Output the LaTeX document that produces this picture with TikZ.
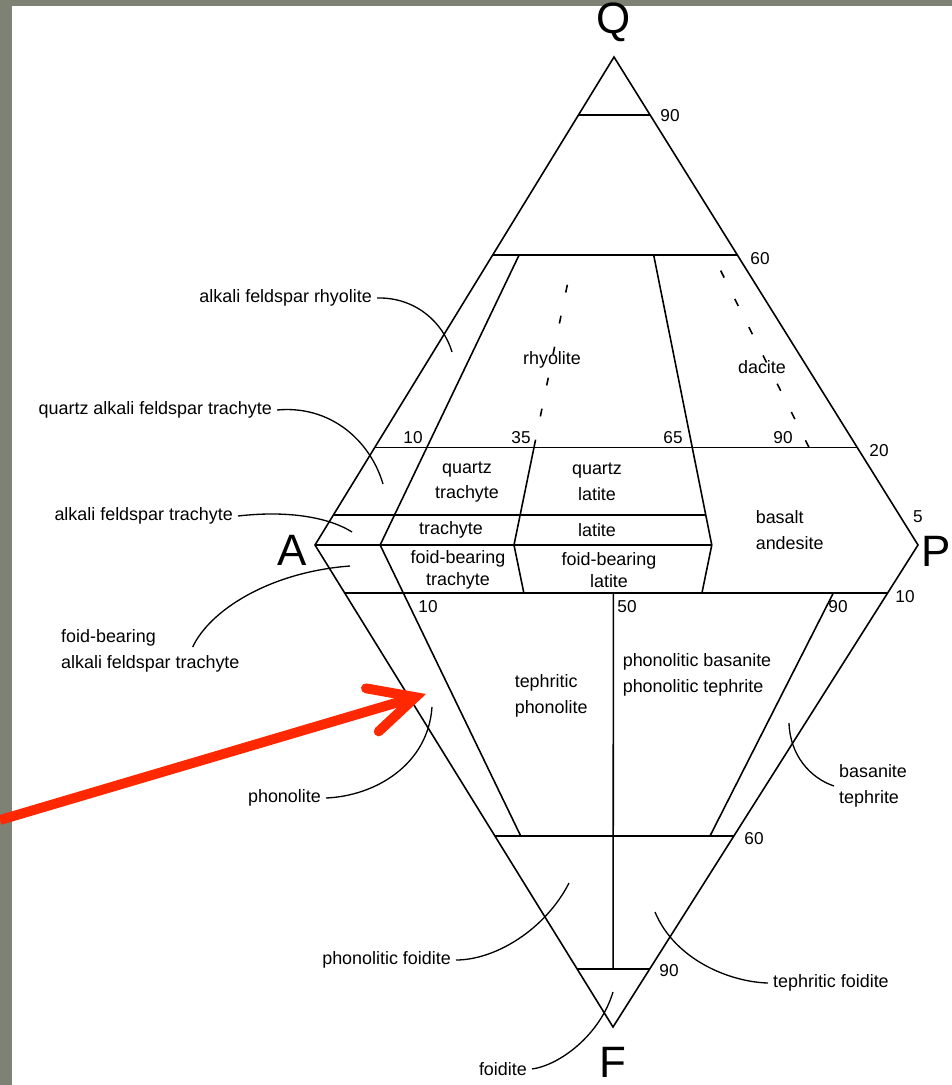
\documentclass[tikz,border=0pt]{standalone}
\usepackage{fontspec}
\setmainfont{Liberation Sans}
\usetikzlibrary{arrows.meta,positioning,calc}
\definecolor{slideGrey}{HTML}{7E8275}
\definecolor{markRed}{HTML}{FF2800}

\begin{document}
\begin{tikzpicture}[x=0.02cm, y=-0.02cm, line width=0.9pt,
    every node/.style={font=\fontsize{10.2}{14.7}\selectfont, inner sep=0pt},
    corner/.style={font=\fontsize{25}{28}\selectfont},
    tick/.style={font=\fontsize{9.8}{11}\selectfont},
    field/.style={align=center},
    tight/.style={align=center, font=\fontsize{10.2}{12.4}\selectfont},
    note/.style={inner sep=2.5pt},
    leader/.style={line width=0.75pt},
    guess/.style={dash pattern=on 4.5pt off 13.5pt}]
  \useasboundingbox (0,0) rectangle (952,1085);
  \fill[slideGrey] (0,0) rectangle (952,1085);
  \fill[white] (12,6) rectangle (952,1085);

  \coordinate (Q) at (614,57);
  \coordinate (A) at (315,545);
  \coordinate (P) at (918,545);
  \coordinate (F) at (613,1027);
  \foreach \t/\n in {0.108/10, 0.33/35, 0.495/50, 0.658/65, 0.9/90}
    \coordinate (ap\n) at ($(A)!\t!(P)$);

  \draw[line join=miter] (Q) -- (A) -- (F) -- (P) -- cycle;
  \draw (A) -- (ap65);
  \foreach \t in {0.881, 0.594, 0.2}
    \draw ($(A)!\t!(Q)$) -- ($(P)!\t!(Q)$);
  \foreach \t in {0.0996, 0.604, 0.88}
    \draw ($(A)!\t!(F)$) -- ($(P)!\t!(F)$);
  \draw ($(A)!0.0615!(Q)$) -- ($(ap65)!0.0615!(Q)$);
  \draw ($(ap10)!0.594!(Q)$) -- (ap10) -- ($(ap10)!0.604!(F)$);
  \draw ($(ap35)!0.2!(Q)$) -- (ap35) -- ($(ap35)!0.0996!(F)$);
  \draw ($(ap65)!0.594!(Q)$) -- (ap65) -- ($(ap65)!0.0996!(F)$);
  \draw ($(ap90)!0.0996!(F)$) -- ($(ap90)!0.604!(F)$);
  \draw ($(ap50)!0.0996!(F)$) -- ($(ap50)!0.88!(F)$);
  \draw[guess] ($(ap35)!0.2!(Q)$) -- ($(ap35)!0.57!(Q)$);
  \draw[guess] ($(ap90)!0.2!(Q)$) -- ($(ap90)!0.594!(Q)$);

  \node[corner] (lQ) at (614,22) {Q};
  \node[corner] (lA) at (292,550) {A};
  \node[corner, anchor=east] (lP) at (952,551) {P};
  \node[corner] (lF) at (613,1062) {F};

  \foreach \x/\y/\v in {670/116/90, 760/259/60, 879/451/20, 918/517/5, 905/597/10,
      754/839/60, 669/971/90, 413/438/10, 521/438/35, 673/438/65, 783/438/90,
      428/607/10, 627/607/50, 838/607/90}
    \node[tick] (n\x) at (\x,\y) {\v};

  \node (rhy) at (552,360) {rhyolite};
  \node (dac) at (762,367) {dacite};
  \node[field] (qtr) at (467,482) {quartz\\trachyte};
  \node[field] (qlat) at (597,482) {quartz\\latite};
  \node (tra) at (451,530) {trachyte};
  \node (lat) at (597,530) {latite};
  \node[tight] (ftra) at (458,570) {foid-bearing\\trachyte};
  \node[tight] (flat) at (609,570) {foid-bearing\\latite};
  \node[align=left, anchor=west] (bas) at (755,530) {basalt\\andesite};
  \node[align=left, anchor=west] (tph) at (514,696) {tephritic\\phonolite};
  \node[align=left, anchor=west] (pbt) at (622,675) {phonolitic basanite\\phonolitic tephrite};

  \node[note, anchor=east] (afr) at (377,298) {alkali feldspar rhyolite};
  \node[note, anchor=east] (qaft) at (277,410) {quartz alkali feldspar trachyte};
  \node[note, anchor=east] (aft) at (238,516) {alkali feldspar trachyte};
  \node[note, anchor=north west, align=left] (faft) at (56,624) {foid-bearing\\alkali feldspar trachyte};
  \node[note, anchor=east] (pho) at (326,798) {phonolite};
  \node[note, anchor=east] (pfo) at (456,960) {phonolitic foidite};
  \node[note, anchor=east] (foi) at (532,1069) {foidite};
  \node[note, anchor=west] (tfo) at (768,983) {tephritic foidite};
  \node[note, anchor=west, align=left] (bte) at (834,786) {basanite\\tephrite};

  \coordinate (afrIn) at (452,352);
  \coordinate (qaftIn) at (383,484);
  \coordinate (aftIn) at (352,532);
  \coordinate (faftIn) at (350,566);
  \coordinate (phoIn) at (432,707);
  \coordinate (pfoIn) at (569,883);
  \coordinate (foiIn) at (613,992);
  \coordinate (tfoIn) at (655,912);
  \coordinate (bteIn) at (789,723);
  \draw[leader] (afr.east) .. controls (415,297) and (443,322) .. (afrIn);
  \draw[leader] (qaft.east) .. controls (330,405) and (370,440) .. (qaftIn);
  \draw[leader] (aft.east) .. controls (290,510) and (330,518) .. (aftIn);
  \draw[leader] ($(faft.north east)+(-52,23)$) .. controls (210,610) and (270,572) .. (faftIn);
  \draw[leader] (pho.east) .. controls (375,796) and (428,765) .. (phoIn);
  \draw[leader] (pfo.east) .. controls (495,960) and (545,930) .. (pfoIn);
  \draw[leader] (foi.east) .. controls (560,1065) and (600,1035) .. (foiIn);
  \draw[leader] (tfo.west) .. controls (730,982) and (675,960) .. (tfoIn);
  \draw[leader] (bte.west) .. controls (810,778) and (790,755) .. (bteIn);

  \coordinate (redTail) at (0,820);
  \coordinate (redTip) at (426,694);
  \draw[markRed, line width=5.6pt,
    -{Straight Barb[length=0.9cm, width=0.9cm, line cap=round, line join=miter]}] (redTail) -- (redTip);
\end{tikzpicture}
\end{document}
